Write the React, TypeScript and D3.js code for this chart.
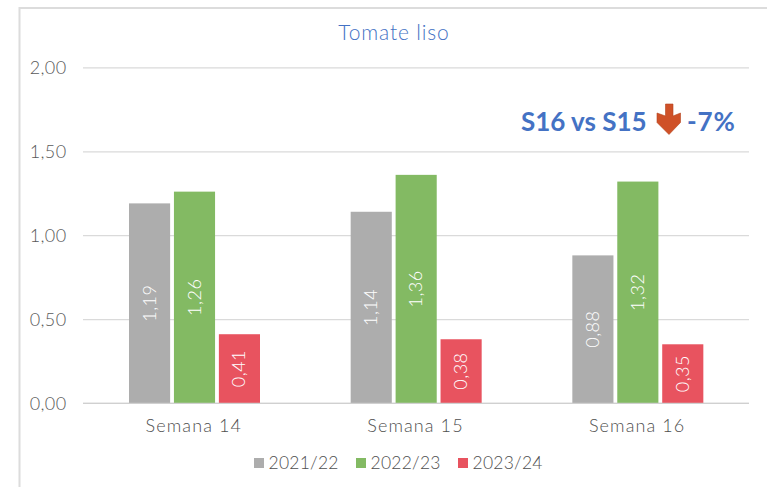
import React, { useEffect, useRef } from "react";
import * as d3 from "d3";

const categories = ["Semana 14", "Semana 15", "Semana 16"];
const seriesNames = ["2021/22", "2022/23", "2023/24"];
const s2122 = [1.19, 1.14, 0.88];
const s2223 = [1.26, 1.36, 1.32];
const s2324 = [0.41, 0.38, 0.35];
const seriesValues = [s2122, s2223, s2324];
const seriesColors = ["#ADADAD", "#83BA63", "#E8535F"];
const yTicks = [0, 0.5, 1, 1.5, 2];
const titleText = "Tomate liso";
const noteLeft = "S16 vs S15";
const noteRight = "-7%";

const W = 767, H = 487;
const FONT = "Lato, 'Open Sans', sans-serif";
const comma = (v: number, d?: number) => (d === undefined ? String(v) : v.toFixed(d)).replace(".", ",");

export default function App() {
  const ref = useRef<SVGSVGElement>(null);
  useEffect(() => {
    const svg = d3.select(ref.current!);
    svg.selectAll("*").remove();
    const y = d3.scaleLinear().domain([0, 2]).range([403, 67.5]);
    const x0 = d3.scaleBand<string>().domain(categories).range([83, 748]).paddingInner(0).paddingOuter(0);
    const x1 = d3.scaleBand<string>().domain(seriesNames).range([46, 177]).paddingInner(0.085).paddingOuter(0);

    // frame
    svg.append("path").attr("d", `M19.5,${H} V8 H${W}`).attr("fill", "none").attr("stroke", "#DCDCDC").attr("stroke-width", 2);

    // grid
    svg.append("g").selectAll("line").data(yTicks).join("line")
      .attr("x1", 83).attr("x2", 749)
      .attr("y1", d => y(d) + 0.4).attr("y2", d => y(d) + 0.4)
      .attr("stroke", "#DADADA").attr("stroke-width", 1.3);

    svg.append("g").selectAll("text").data(yTicks).join("text")
      .attr("x", 66.5).attr("y", d => y(d) + 6.5).attr("text-anchor", "end")
      .attr("font-size", 18).attr("font-weight", 300).attr("letter-spacing", 0.4).attr("fill", "#5A5A5A").attr("font-family", FONT)
      .text(d => comma(d, 2));

    // bars
    seriesNames.forEach((name, si) => {
      const g = svg.append("g");
      categories.forEach((cat, ci) => {
        const v = seriesValues[si][ci];
        const bx = x0(cat)! + x1(name)!;
        g.append("rect").attr("x", bx).attr("y", y(v)).attr("width", x1.bandwidth()).attr("height", y(0) - y(v)).attr("fill", seriesColors[si]);
        const cx = bx + x1.bandwidth() / 2;
        const cy = (y(v) + y(0)) / 2;
        g.append("text")
          .attr("transform", `translate(${cx + 6},${cy}) rotate(-90)`)
          .attr("text-anchor", "middle").attr("font-size", 18).attr("font-weight", 300).attr("letter-spacing", 0.5).attr("fill", "#FFFFFF").attr("font-family", FONT)
          .text(comma(v));
      });
    });

    // axis line
    svg.append("line").attr("x1", 83).attr("x2", 749).attr("y1", y(0) + 0.4).attr("y2", y(0) + 0.4).attr("stroke", "#D0D0D0").attr("stroke-width", 1.3);

    // category labels
    svg.append("g").selectAll("text").data(categories).join("text")
      .attr("x", d => x0(d)! + x0.bandwidth() / 2).attr("y", 431.5).attr("text-anchor", "middle")
      .attr("font-size", 18).attr("font-weight", 300).attr("letter-spacing", 1.1).attr("fill", "#4F4F4F").attr("font-family", FONT)
      .text(d => d);

    // title
    svg.append("text").attr("x", 394).attr("y", 40).attr("text-anchor", "middle")
      .attr("font-size", 21).attr("font-weight", 300).attr("letter-spacing", 0.85).attr("fill", "#4472C4").attr("font-family", FONT).text(titleText);

    // legend
    const legX = [254, 356, 458];
    seriesNames.forEach((name, i) => {
      svg.append("rect").attr("x", legX[i]).attr("y", 458).attr("width", 10).attr("height", 10).attr("fill", seriesColors[i]);
      svg.append("text").attr("x", legX[i] + 14.5).attr("y", 469).attr("font-size", 17.5).attr("font-weight", 300).attr("letter-spacing", 0.25)
        .attr("fill", "#4F4F4F").attr("font-family", FONT).text(name);
    });

    // annotation
    svg.append("text").attr("x", 521).attr("y", 130.5).attr("font-size", 26).attr("font-weight", 700)
      .attr("fill", "#4472C4").attr("font-family", FONT).text(noteLeft);
    svg.append("path").attr("d", "M665.5,104 H673 V116 L680.5,113 V122.5 L669,134.5 L657,122.5 V113 L665.5,116 Z").attr("fill", "#CF5128").attr("stroke", "#B5451F").attr("stroke-width", 0.6);
    svg.append("text").attr("x", 687).attr("y", 130.5).attr("font-size", 26).attr("font-weight", 700).attr("letter-spacing", 0.9)
      .attr("fill", "#4472C4").attr("font-family", FONT).text(noteRight);
  }, []);
  return <svg ref={ref} width={W} height={H} style={{ position: "absolute", left: 0, top: 0, background: "#fff" }} />;
}
